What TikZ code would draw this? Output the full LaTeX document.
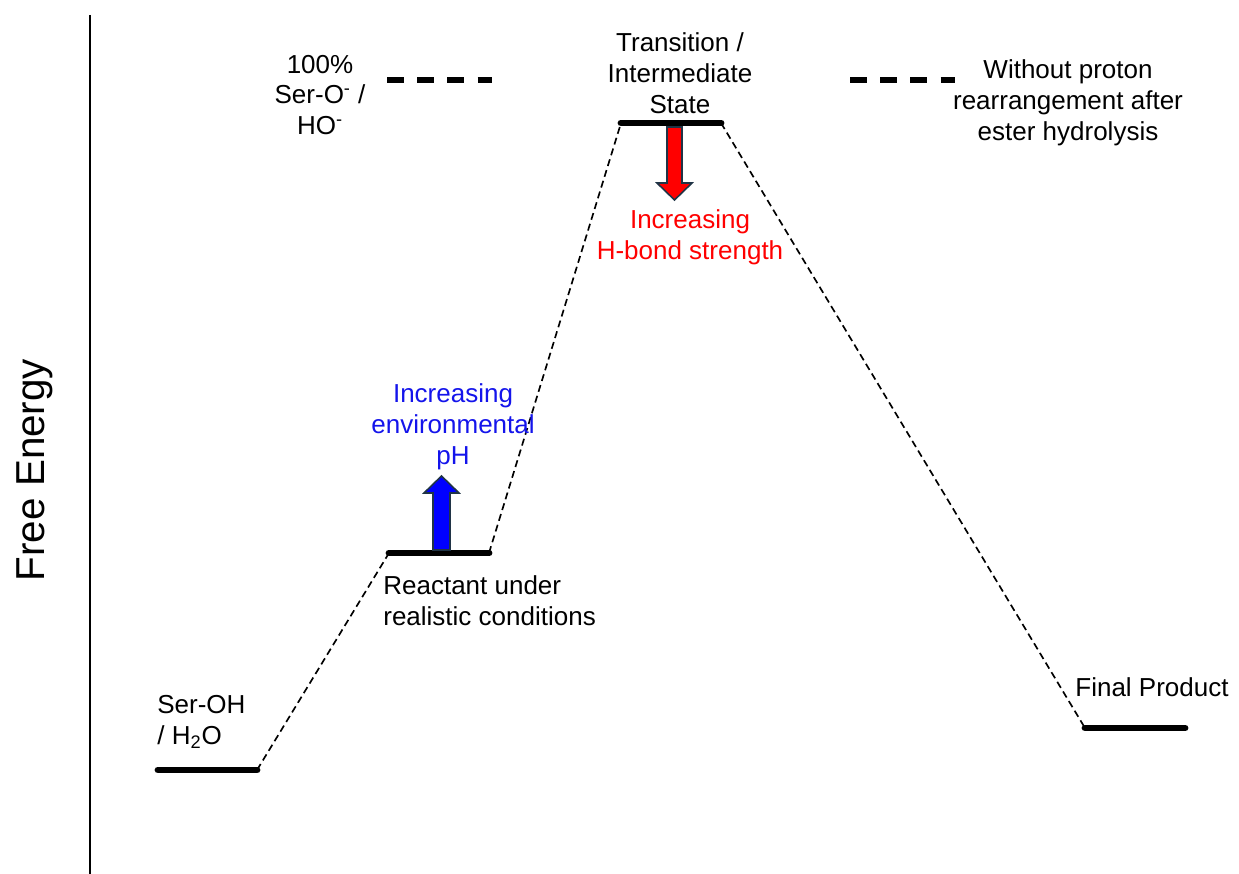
\documentclass[tikz,border=0pt]{standalone}
\usepackage{fontspec}
\setmainfont{Liberation Sans}
\usepackage{xcolor}
\usetikzlibrary{positioning}

\definecolor{arrowline}{RGB}{32,52,70}
\definecolor{phblue}{RGB}{20,20,235}

\begin{document}
\begin{tikzpicture}[x=0.02cm, y=-0.02cm]
    \tikzstyle{level} = [line width=3.9pt, line cap=round]
    \tikzstyle{hypolevel} = [line width=3.9pt, dash pattern=on 9.6pt off 7.6pt]
    \tikzstyle{link} = [line width=0.95pt, dash pattern=on 4pt off 2.4pt]
    \tikzstyle{blockarrow} = [draw=arrowline, line width=0.9pt, line join=miter]
    \tikzstyle{lbl} = [font=\fontsize{14.8}{17.6}\selectfont, align=center, inner sep=0pt]

    \useasboundingbox (0,0) rectangle (1239,874);

    % axis
    \coordinate (axtop) at (90,15);
    \coordinate (axbot) at (90,874);
    \draw[line width=1.7pt] (axtop) -- (axbot);
    \node (ylabel) [font=\fontsize{23}{27}\selectfont, rotate=90, inner sep=0pt] at (35,470) {Free Energy};

    % energy levels
    \coordinate (ser-l) at (158,770);  \coordinate (ser-r) at (257,770);
    \coordinate (rea-l) at (389,553);  \coordinate (rea-r) at (489,553);
    \coordinate (ts-l) at (621,123);   \coordinate (ts-r) at (721,123);
    \coordinate (fin-l) at (1085,728); \coordinate (fin-r) at (1185,728);
    \coordinate (ion-l) at (387,80);   \coordinate (ion-r) at (492,80);
    \coordinate (nop-l) at (850,80);   \coordinate (nop-r) at (955,80);

    \draw[level] (ser-l) -- (ser-r);
    \draw[level] (rea-l) -- (rea-r);
    \draw[level] (ts-l) -- (ts-r);
    \draw[level] (fin-l) -- (fin-r);
    \draw[hypolevel] (ion-l) -- (ion-r);
    \draw[hypolevel] (nop-l) -- (nop-r);

    % reaction path
    \draw[link] (ser-r) -- (rea-l);
    \draw[link] (rea-r) -- (ts-l);
    \draw[link] (ts-r) -- (fin-l);

    % block arrows
    \draw[blockarrow, fill=blue] (433,550) -- (433,493) -- (424,493) -- (441.5,476)
        -- (459,493) -- (450,493) -- (450,550) -- cycle;
    \draw[blockarrow, fill=red] (667,127) -- (667,183) -- (657,183) -- (674.5,200)
        -- (692,183) -- (682,183) -- (682,127) -- cycle;

    % labels
    \node (serlbl) [lbl, align=left, anchor=west] at (157,722) {Ser-OH\\/ H\textsubscript{2}O};
    \node (realbl) [lbl, align=left, anchor=west] at (383,601) {Reactant under\\realistic conditions};
    \node (tslbl) [lbl] at (680,73) {Transition /\\Intermediate\\State};
    \node (finlbl) [lbl] at (1152,687) {Final Product};
    \node (ionlbl) [lbl] at (320,95) {100\%\\Ser-O\textsuperscript{-} /\\HO\textsuperscript{-}};
    \node (noplbl) [lbl] at (1068,103) {Without proton\\rearrangement after\\ester hydrolysis};
    \node (hblbl) [lbl, text=red] at (690,237) {Increasing\\H-bond strength};
    \node (phlbl) [lbl, text=phblue] at (453,427) {Increasing\\environmental\\pH};
\end{tikzpicture}
\end{document}
